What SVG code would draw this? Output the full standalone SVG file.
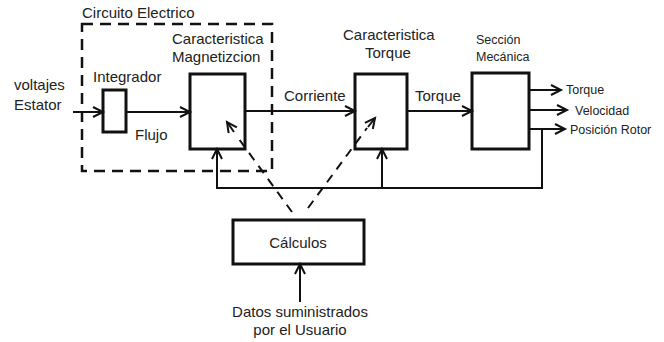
<svg xmlns="http://www.w3.org/2000/svg" width="664" height="342" viewBox="0 0 664 342">
<style>
text{font-family:"Liberation Sans",Arial,sans-serif;font-size:15px;fill:#222}
.sm{font-size:12.5px}
.box{fill:none;stroke:#111;stroke-width:3}
.ln{fill:none;stroke:#111;stroke-width:2}
.dash{fill:none;stroke:#111;stroke-width:2;stroke-dasharray:9 7}
</style>
<defs>
<marker id="ah" markerUnits="userSpaceOnUse" markerWidth="14" markerHeight="14" refX="11" refY="6" orient="auto">
<path d="M1,1 L11,6 L1,11" fill="none" stroke="#111" stroke-width="2"/>
</marker>
</defs>
<rect width="664" height="342" fill="#fff"/>
<g id="circuito">
<rect x="82" y="24" width="190" height="147" fill="none" stroke="#111" stroke-width="2.5" stroke-dasharray="11 7"/>
<text x="82" y="18">Circuito Electrico</text>
</g>
<g id="entrada">
<text x="14" y="90">voltajes</text>
<text x="14" y="110">Estator</text>
</g>
<g id="integrador">
<rect class="box" x="103" y="90" width="23" height="42"/>
<text x="93" y="82">Integrador</text>
<text x="135" y="140">Flujo</text>
</g>
<g id="magnetizacion">
<rect class="box" x="190" y="74" width="55" height="75"/>
<text x="172" y="44">Caracteristica</text>
<text x="172" y="62">Magnetizcion</text>
</g>
<g id="torque">
<rect class="box" x="355" y="74" width="52" height="75"/>
<text x="343" y="40">Caracteristica</text>
<text x="365" y="58">Torque</text>
<text x="284" y="101">Corriente</text>
<text x="415" y="101">Torque</text>
</g>
<g id="mecanica">
<rect class="box" x="472" y="73" width="57" height="76"/>
<text class="sm" x="476" y="44">Sección</text>
<text class="sm" x="476" y="61">Mecánica</text>
<text class="sm" x="566" y="94">Torque</text>
<text class="sm" x="575" y="115">Velocidad</text>
<text class="sm" x="570" y="134">Posición Rotor</text>
</g>
<g id="calculos">
<rect class="box" x="233" y="220" width="131" height="44"/>
<text x="298" y="248" text-anchor="middle">Cálculos</text>
</g>
<g id="datos">
<text x="300" y="317" text-anchor="middle">Datos suministrados</text>
<text x="300" y="335" text-anchor="middle">por el Usuario</text>
</g>
<g id="connectors">
<line class="ln" x1="73" y1="112" x2="103" y2="112" marker-end="url(#ah)"/>
<line class="ln" x1="126" y1="112" x2="190" y2="112" marker-end="url(#ah)"/>
<line class="ln" x1="245" y1="111" x2="355" y2="111" marker-end="url(#ah)"/>
<line class="ln" x1="407" y1="111" x2="472" y2="111" marker-end="url(#ah)"/>
<line class="ln" x1="529" y1="90" x2="561" y2="90" marker-end="url(#ah)"/>
<line class="ln" x1="529" y1="110" x2="567" y2="110" marker-end="url(#ah)"/>
<line class="ln" x1="529" y1="129" x2="565" y2="129" marker-end="url(#ah)"/>
<polyline class="ln" points="542,129 542,188 217,188 217,149" marker-end="url(#ah)"/>
<line class="ln" x1="382" y1="188" x2="382" y2="149" marker-end="url(#ah)"/>
<line class="ln" x1="300" y1="302" x2="300" y2="264" marker-end="url(#ah)"/>
<line class="dash" x1="292" y1="212" x2="236" y2="135"/>
<line class="ln" x1="234" y1="132" x2="227" y2="122" marker-end="url(#ah)"/>
<line class="dash" x1="308" y1="208" x2="367" y2="128"/>
<line class="ln" x1="368" y1="127" x2="375" y2="118" marker-end="url(#ah)"/>
</g>
</svg>
